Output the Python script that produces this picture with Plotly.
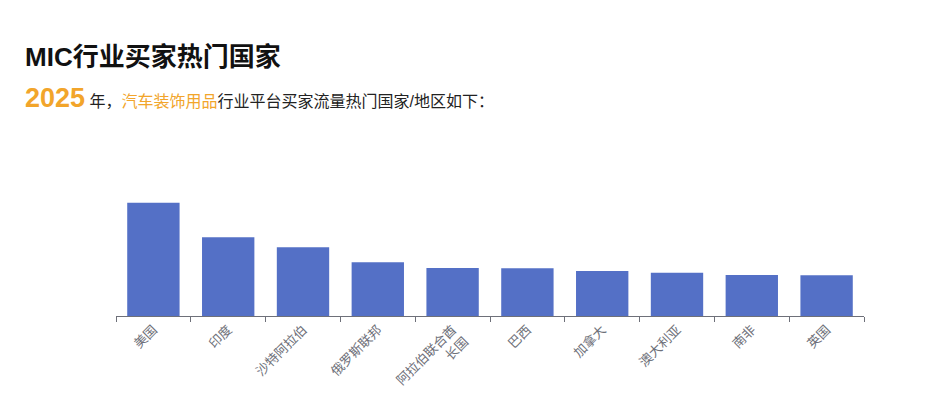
import plotly.graph_objects as go

categories = ["美国", "印度", "沙特阿拉伯", "俄罗斯联邦", "阿拉伯联合酋<br>长国", "巴西", "加拿大", "澳大利亚", "南非", "英国"]
values = [113.3, 78.7, 68.7, 53.7, 48.0, 47.7, 45.0, 43.3, 41.0, 40.7]

title_text = "MIC行业买家热门国家"
year_text = "2025"
industry_text = "汽车装饰用品"

BAR = "#5470c6"
AXIS = "#6E7079"
ORANGE = "#F2A52B"
FONT = "Liberation Sans, Noto Sans CJK SC, sans-serif"

fig = go.Figure(go.Bar(x=categories, y=values, marker=dict(color=BAR, line=dict(width=0)),
                       hoverinfo="x+y"))

# page body has an 8px margin; work in figure coordinates (page - 8)
OFF = 8
W, H = 925 - 2 * OFF, 404 - 2 * OFF
L = 116 - OFF
R = W - (864 - OFF)
B = H - (316 - OFF)
T = 140 - OFF
pw, ph = W - L - R, H - T - B

def px(x):
    return (x - OFF - L) / pw

def py(y):
    return (H - B - (y - OFF)) / ph

fig.update_layout(
    width=W, height=H,
    margin=dict(l=L, r=R, t=T, b=B, pad=0, autoexpand=False),
    paper_bgcolor="white", plot_bgcolor="white",
    font=dict(family=FONT, color="#333"),
    bargap=0.3,
    showlegend=False,
    xaxis=dict(type="category", tickson="boundaries", ticks="outside", ticklen=5,
               tickcolor=AXIS, tickwidth=1, showline=True, linecolor=AXIS, linewidth=1,
               showgrid=False, tickangle=-45, automargin=False,
               tickfont=dict(size=13, color=AXIS, family=FONT)),
    yaxis=dict(visible=False, range=[0, 176], showgrid=False, zeroline=False, automargin=False),
    annotations=[
        dict(text="<b>" + title_text + "</b>", xref="paper", yref="paper",
             x=px(23), y=py(57), xanchor="left", yanchor="middle", showarrow=False,
             font=dict(size=26, color="#111", family=FONT)),
        dict(text=("<b><span style='font-size:27px;color:%s'>%s</span></b> 年，"
                   "<span style='color:%s'>%s</span>行业平台买家流量热门国家/地区如下：")
             % (ORANGE, year_text, ORANGE, industry_text),
             xref="paper", yref="paper",
             x=px(23), y=py(98), xanchor="left", yanchor="middle", showarrow=False,
             font=dict(size=16, color="#222", family=FONT)),
    ],
)

fig.write_html("out.html")
